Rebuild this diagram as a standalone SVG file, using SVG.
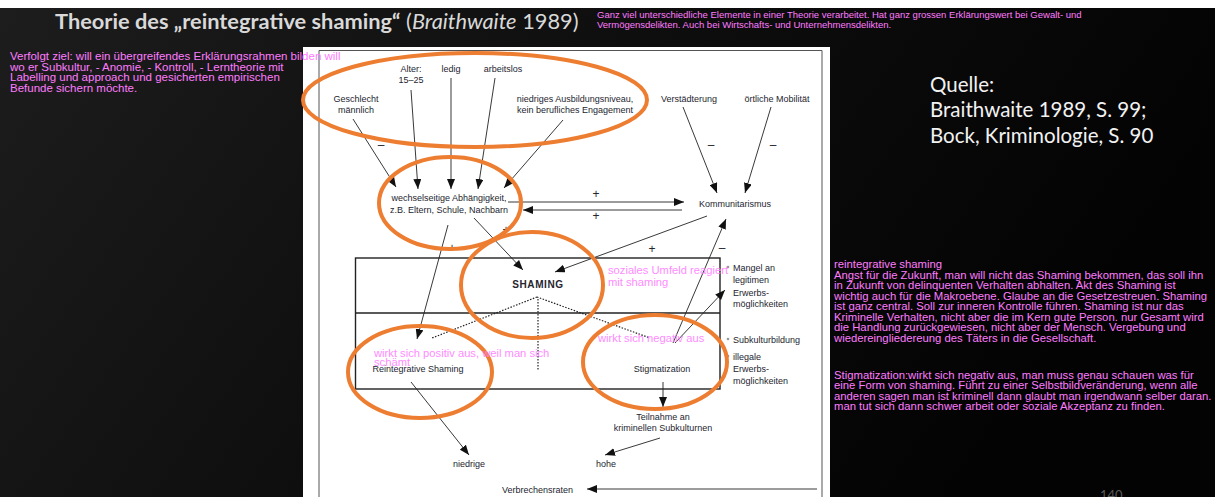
<svg xmlns="http://www.w3.org/2000/svg" width="1215" height="497" viewBox="0 0 1215 497">
<defs>
<linearGradient id="bg" x1="0" y1="0" x2="1" y2="0.3">
<stop offset="0" stop-color="#1d1d1d"/>
<stop offset="0.5" stop-color="#0e0e0e"/>
<stop offset="1" stop-color="#030303"/>
</linearGradient>
<marker id="ah" viewBox="0 0 10 8" refX="10" refY="4" markerWidth="10" markerHeight="8" markerUnits="userSpaceOnUse" orient="auto">
<path d="M0,0 L10,4 L0,8 z" fill="#111"/>
</marker>
</defs>
<style>
.d{font-family:"Liberation Sans",Arial,sans-serif;font-size:9px;fill:#252530}
.s{font-family:"Liberation Sans",Arial,sans-serif;font-size:12px;fill:#252530;text-anchor:middle}
.m{text-anchor:middle}
.sg{font-family:"Liberation Sans",Arial,sans-serif;font-size:10px;fill:#252530;text-anchor:middle}
.pk{font-family:"Liberation Sans",Arial,sans-serif;font-size:11.3px;fill:#ff7cff}
.pd{font-family:"Liberation Sans",Arial,sans-serif;font-size:11.2px;fill:#ff80ff;opacity:0.9}
.ar{stroke:#222;stroke-width:0.9;fill:none;marker-end:url(#ah)}
.dot{stroke:#222;stroke-width:1.2;stroke-dasharray:1.5 1.5;fill:none}
.ov{fill:none;stroke:#ed7d31;stroke-width:4}
.w{font-family:"Lato","Open Sans",sans-serif;fill:#f2f2f2}
.bl{fill:#999}
</style>
<rect x="0" y="0" width="1215" height="497" fill="url(#bg)"/>
<rect x="0" y="0" width="1215" height="8" fill="#ffffff"/>
<text x="55" y="29" font-family="Lato,'Open Sans',sans-serif" font-size="21.8" fill="#d9d9d9"><tspan font-weight="bold">Theorie des „reintegrative shaming“</tspan> (<tspan font-style="italic">Braithwaite</tspan> 1989)</text>
<g id="note-top">
<text class="pk" style="font-size:9.5px" x="597" y="18">Ganz viel unterschiedliche Elemente in einer Theorie verarbeitet. Hat ganz grossen Erklärungswert bei Gewalt- und</text>
<text class="pk" style="font-size:9.5px" x="597" y="28">Vermögensdelikten. Auch bei Wirtschafts- und Unternehmensdelikten.</text>
</g>
<rect x="303" y="47" width="527" height="450" fill="#ffffff"/>
<path d="M319,497 V50.5 H822 V497" fill="none" stroke="#555" stroke-width="1"/>
<g id="note-left">
<text class="pk" style="font-size:11.5px" x="10" y="60">Verfolgt ziel: will ein übergreifendes Erklärungsrahmen bilden will</text>
<text class="pk" style="font-size:11.5px" x="10" y="70.5">wo er Subkultur, - Anomie, - Kontroll, - Lerntheorie mit</text>
<text class="pk" style="font-size:11.5px" x="10" y="81">Labelling und approach und gesicherten empirischen</text>
<text class="pk" style="font-size:11.5px" x="10" y="91.5">Befunde sichern möchte.</text>
</g>
<g id="quelle">
<text class="w" font-size="20.5" x="930" y="92">Quelle:</text>
<text class="w" font-size="20.5" x="930" y="117">Braithwaite 1989, S. 99;</text>
<text class="w" font-size="20.5" x="930" y="143">Bock, Kriminologie, S. 90</text>
</g>
<g id="note-right">
<text class="pk" x="834" y="268">reintegrative shaming</text>
<text class="pk" x="834" y="278.5">Angst für die Zukunft, man will nicht das Shaming bekommen, das soll ihn</text>
<text class="pk" x="834" y="289">in Zukunft von delinquenten Verhalten abhalten. Akt des Shaming ist</text>
<text class="pk" x="834" y="299.5">wichtig auch für die Makroebene. Glaube an die Gesetzestreuen. Shaming</text>
<text class="pk" x="834" y="310">ist ganz central. Soll zur inneren Kontrolle führen. Shaming ist nur das</text>
<text class="pk" x="834" y="320.5">Kriminelle Verhalten, nicht aber die im Kern gute Person. nur Gesamt wird</text>
<text class="pk" x="834" y="331">die Handlung zurückgewiesen, nicht aber der Mensch. Vergebung und</text>
<text class="pk" x="834" y="341.5">wiedereingliedereung des Täters in die Gesellschaft.</text>
<text class="pk" x="834" y="378.5">Stigmatization:wirkt sich negativ aus, man muss genau schauen was für</text>
<text class="pk" x="834" y="389">eine Form von shaming. Führt zu einer Selbstbildveränderung, wenn alle</text>
<text class="pk" x="834" y="399.5">anderen sagen man ist kriminell dann glaubt man irgendwann selber daran.</text>
<text class="pk" x="834" y="410">man tut sich dann schwer arbeit oder soziale Akzeptanz zu finden.</text>
</g>
<text x="1100" y="500" font-family="Lato,sans-serif" font-size="13" fill="#595959">140</text>
<g id="box">
<rect x="355.5" y="258" width="364.5" height="131" fill="none" stroke="#222" stroke-width="1.4"/>
<line x1="355.5" y1="313" x2="720" y2="313" stroke="#222" stroke-width="1.4"/>
</g>
<g id="connectors">
<line class="ar" x1="353" y1="119" x2="396" y2="187"/>
<line class="ar" x1="411" y1="90" x2="418" y2="189"/>
<line class="ar" x1="451" y1="78" x2="451" y2="189"/>
<line class="ar" x1="495" y1="78" x2="478" y2="189"/>
<line class="ar" x1="563" y1="120" x2="504" y2="188"/>
<line class="ar" x1="683" y1="107" x2="717" y2="193"/>
<line class="ar" x1="771" y1="107" x2="745" y2="193"/>
<line class="ar" x1="508" y1="202" x2="684" y2="202"/>
<line class="ar" x1="682" y1="210" x2="523" y2="210"/>
<line class="ar" x1="707" y1="216" x2="555" y2="272"/>
<line class="ar" x1="474" y1="218" x2="523" y2="270"/>
<line class="ar" x1="448" y1="225" x2="417" y2="339"/>
<line class="dot" x1="537" y1="297" x2="432" y2="338"/>
<line class="dot" x1="537" y1="297" x2="650" y2="338"/>
<line class="dot" x1="538" y1="299" x2="538" y2="370"/>
<line class="ar" x1="673" y1="343" x2="726" y2="219"/>
<line class="ar" x1="675" y1="343" x2="725" y2="290"/>
<line class="ar" x1="411" y1="382" x2="469" y2="455"/>
<line class="ar" x1="663" y1="382" x2="663" y2="407"/>
<line class="ar" x1="660" y1="438" x2="605" y2="455"/>
<line class="ar" x1="817" y1="489" x2="587" y2="489"/>
</g>
<g id="signs">
<text class="s" x="381" y="149">–</text>
<text class="s" x="460" y="149">–</text>
<text class="s" x="493" y="149">–</text>
<text class="s" x="711" y="149">–</text>
<text class="s" x="773" y="149">–</text>
<text class="s" x="722" y="252">–</text>
<text class="s" x="596" y="198">+</text>
<text class="s" x="596" y="220">+</text>
<text class="s" x="506" y="234">+</text>
<text class="s" x="452" y="252">+</text>
<text class="s" x="652" y="253">+</text>
</g>
<g id="n-geschlecht"><text class="d m" x="356" y="102">Geschlecht</text><text class="d m" x="356" y="113">männlich</text></g>
<g id="n-alter"><text class="d m" x="411" y="72">Alter:</text><text class="d m" x="411" y="83">15–25</text></g>
<g id="n-ledig"><text class="d m" x="451" y="72">ledig</text></g>
<g id="n-arbeitslos"><text class="d m" x="503" y="72">arbeitslos</text></g>
<g id="n-ausbildung"><text class="d m" x="575" y="102">niedriges Ausbildungsniveau,</text><text class="d m" x="575" y="113">kein berufliches Engagement</text></g>
<g id="n-verstaedterung"><text class="d m" x="689" y="102">Verstädterung</text></g>
<g id="n-mobilitaet"><text class="d m" x="777" y="102">örtliche Mobilität</text></g>
<g id="n-kommunitarismus"><text class="d m" x="735" y="207">Kommunitarismus</text></g>
<g id="n-abhaengigkeit"><text class="d m" x="449" y="201">wechselseitige Abhängigkeit,</text><text class="d m" x="449" y="213">z.B. Eltern, Schule, Nachbarn</text></g>
<g id="n-shaming"><text class="sg" x="538" y="288" font-weight="bold" font-size="10.5" letter-spacing="0.6">SHAMING</text></g>
<g id="n-reintegrative"><text class="d m" x="418" y="372">Reintegrative Shaming</text></g>
<g id="n-stigmatization"><text class="d m" x="662" y="372">Stigmatization</text></g>
<g id="n-mangel"><circle class="bl" cx="728" cy="267" r="1.3"/><text class="d" x="733" y="271">Mangel an</text><text class="d" x="733" y="283">legitimen</text><text class="d" x="733" y="295.5">Erwerbs-</text><text class="d" x="733" y="307">möglichkeiten</text></g>
<g id="n-subkultur"><circle class="bl" cx="728" cy="339" r="1.3"/><text class="d" x="733" y="343">Subkulturbildung</text></g>
<g id="n-illegale"><circle class="bl" cx="728" cy="356" r="1.3"/><text class="d" x="733" y="360">illegale</text><text class="d" x="733" y="372">Erwerbs-</text><text class="d" x="733" y="384">möglichkeiten</text></g>
<g id="n-teilnahme"><text class="d m" x="663" y="420">Teilnahme an</text><text class="d m" x="663" y="431">kriminellen Subkulturnen</text></g>
<g id="n-niedrige"><text class="d m" x="469" y="467">niedrige</text></g>
<g id="n-hohe"><text class="d m" x="606" y="467">hohe</text></g>
<g id="n-verbrechensraten"><text class="d" x="502" y="493">Verbrechensraten</text></g>
<g id="highlights">
<ellipse class="ov" cx="475" cy="100" rx="172" ry="47"/>
<ellipse class="ov" cx="450" cy="203" rx="71" ry="46"/>
<ellipse class="ov" cx="532" cy="285" rx="71" ry="53"/>
<ellipse class="ov" cx="420" cy="372" rx="72" ry="46"/>
<ellipse class="ov" cx="655" cy="362" rx="72" ry="47"/>
</g>
<g id="annotations">
<text class="pd" x="608" y="274">soziales Umfeld reagiert</text>
<text class="pd" x="608" y="286">mit shaming</text>
<text class="pd" x="374" y="357">wirkt sich positiv aus, weil man sich</text>
<text class="pd" x="374" y="366">schämt</text>
<text class="pd" x="598" y="342">wirkt sich negativ aus</text>
</g>
</svg>
